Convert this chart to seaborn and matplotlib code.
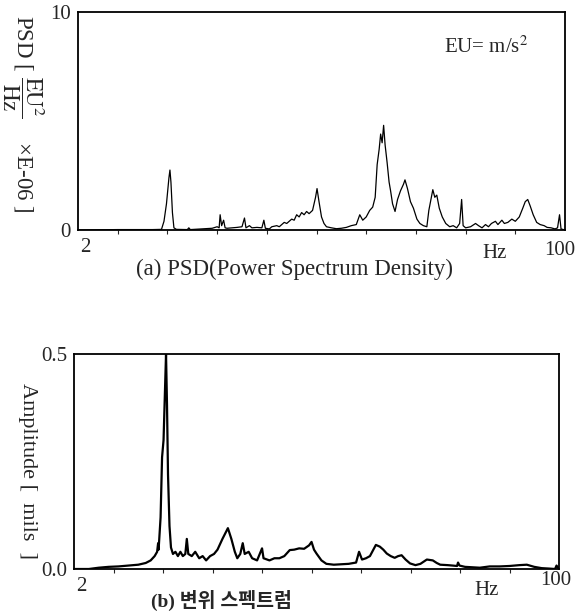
import matplotlib
matplotlib.use("Agg")
import matplotlib.pyplot as plt
import pandas as pd
import seaborn as sns

# (a) PSD, x in Hz, y in EU^2/Hz x 1E-06
psd_hz = [2.0, 10.0, 17.0, 18.8, 19.3, 19.8, 20.3, 20.5, 20.7, 21.0, 21.3, 21.8,
          24.0, 24.3, 24.6, 27.0, 29.0, 30.0, 30.4, 30.6, 30.9, 31.3, 31.6,
          32.0, 33.0, 34.0, 35.0, 35.5, 35.8, 36.5, 37.0, 38.0, 39.0, 39.4, 39.7,
          40.5, 41.0, 42.0, 42.5, 43.5, 44.0, 45.0, 45.5, 46.0, 46.5, 47.0, 47.5,
          48.0, 48.5, 49.2, 49.8, 50.1, 50.5, 51.0, 51.5, 52.0, 53.0, 54.0, 55.0,
          56.0, 57.0, 58.0, 58.7, 59.3, 60.0, 60.7, 61.3, 61.8, 62.2, 62.6, 62.9,
          63.2, 63.5, 63.8, 64.2, 64.6, 64.9, 65.3, 65.8, 66.3, 66.9, 67.5, 67.8,
          68.3, 68.9, 69.5, 70.2, 70.8, 71.5, 72.2, 72.6, 73.1, 73.4, 73.8, 74.2,
          74.7, 75.3, 76.0, 76.8, 77.5, 78.2, 78.8, 79.2, 79.5, 80.0, 81.0, 82.0,
          82.6, 83.3, 84.0, 84.6, 85.2, 86.0, 86.5, 87.3, 87.8, 88.5, 89.3, 90.0,
          90.8, 91.5, 92.0, 92.5, 93.0, 93.6, 94.3, 95.0, 95.8, 96.4, 97.2, 98.0,
          98.5, 98.9, 99.2, 100.0]
psd_val = [0.0, 0.02, 0.02, 0.03, 0.4, 1.2, 2.4, 2.75, 2.2, 0.8, 0.1, 0.03,
           0.02, 0.1, 0.02, 0.05, 0.08, 0.15, 0.1, 0.7, 0.2, 0.45, 0.1,
           0.08, 0.1, 0.12, 0.15, 0.55, 0.1, 0.2, 0.1, 0.12, 0.1, 0.45, 0.08,
           0.05, 0.15, 0.2, 0.15, 0.35, 0.3, 0.5, 0.45, 0.7, 0.6, 0.8, 0.7,
           0.85, 0.75, 0.9, 1.5, 1.9, 1.3, 0.6, 0.3, 0.15, 0.1, 0.06, 0.08,
           0.12, 0.2, 0.25, 0.7, 0.45, 0.6, 0.9, 1.05, 1.5, 3.0, 3.7, 4.4,
           4.0, 4.8, 3.9, 3.1, 2.2, 1.8, 1.2, 0.85, 1.4, 1.8, 2.1, 2.3,
           1.9, 1.3, 1.0, 0.5, 0.3, 0.2, 0.15, 0.9, 1.5, 1.85, 1.5, 1.6,
           1.0, 0.6, 0.3, 0.15, 0.2, 0.1, 0.3, 1.4, 0.2, 0.1, 0.15, 0.3,
           0.2, 0.1, 0.25, 0.15, 0.3, 0.4, 0.25, 0.45, 0.3, 0.35, 0.5, 0.4,
           0.6, 1.0, 1.3, 1.4, 1.1, 0.7, 0.35, 0.25, 0.2, 0.12, 0.1, 0.05,
           0.1, 0.7, 0.05, 0.0]

# (b) displacement spectrum, mils
amp_hz = [2.0, 5.0, 7.0, 9.0, 11.0, 13.0, 15.0, 16.5, 17.5, 18.3, 18.8, 19.0,
          19.1, 19.5, 19.8, 20.1, 20.4, 20.6, 20.8, 21.0, 21.3, 21.6, 22.0, 22.5,
          23.0, 23.5, 24.0, 24.5, 24.8, 25.1, 25.8, 26.5, 27.3, 28.0, 28.7, 29.5,
          30.3, 31.0, 32.0, 33.1, 33.8, 34.5, 35.0, 35.6, 36.1, 36.5, 37.3, 38.0,
          39.0, 40.0, 40.3, 41.5, 42.5, 43.5, 44.5, 45.6, 46.5, 47.5, 48.5, 49.5,
          50.0, 50.5, 51.0, 52.0, 53.0, 54.5, 56.0, 57.5, 59.0, 59.6, 60.2, 61.0,
          61.8, 63.0, 63.8, 64.5, 65.2, 66.0, 66.8, 67.5, 68.2, 69.0, 69.9, 71.0,
          72.0, 73.3, 74.5, 75.3, 76.0, 77.5, 78.5, 79.4, 79.6, 79.9, 81.0, 82.5,
          84.0, 86.0, 88.0, 90.0, 92.0, 93.5, 95.0, 96.5, 98.0, 99.2, 99.5, 100.0]
amp_val = [0.0, 0.0, 0.003, 0.005, 0.006, 0.008, 0.01, 0.014, 0.02, 0.03, 0.04, 0.06,
           0.045, 0.12, 0.26, 0.30, 0.42, 0.5, 0.38, 0.22, 0.1, 0.05, 0.035, 0.04,
           0.03, 0.04, 0.03, 0.035, 0.07, 0.035, 0.03, 0.04, 0.025, 0.03, 0.02, 0.03,
           0.035, 0.045, 0.07, 0.095, 0.07, 0.04, 0.025, 0.035, 0.06, 0.035, 0.04, 0.025,
           0.02, 0.048, 0.025, 0.02, 0.025, 0.025, 0.03, 0.044, 0.045, 0.048, 0.047, 0.055,
           0.063, 0.045, 0.036, 0.02, 0.012, 0.01, 0.011, 0.012, 0.015, 0.04, 0.022, 0.025,
           0.03, 0.056, 0.052, 0.045, 0.036, 0.03, 0.026, 0.03, 0.032, 0.022, 0.013, 0.009,
           0.012, 0.022, 0.02, 0.014, 0.01, 0.009, 0.008, 0.007, 0.015, 0.008, 0.005, 0.004,
           0.003, 0.006, 0.006, 0.007, 0.009, 0.01, 0.005, 0.002, 0.001, 0.0, 0.008, 0.0]

minor_hz = [10, 20, 30, 40, 50, 60, 70, 80, 90]

sns.set_style("white")
plt.rcParams["font.family"] = ["Liberation Serif", "Noto Sans CJK KR", "DejaVu Sans"]
plt.rcParams["mathtext.fontset"] = "stix"

fig = plt.figure(figsize=(5.77, 6.16), dpi=100)
ax_a = fig.add_axes([0.1352, 0.6266, 0.844, 0.354])
ax_b = fig.add_axes([0.1282, 0.0763, 0.8406, 0.349])

df_a = pd.DataFrame({"hz": psd_hz, "psd": psd_val})
df_b = pd.DataFrame({"hz": amp_hz, "amp": amp_val})
sns.lineplot(data=df_a, x="hz", y="psd", ax=ax_a, color="black", linewidth=0.9, sort=False)
sns.lineplot(data=df_b, x="hz", y="amp", ax=ax_b, color="black", linewidth=1.6, sort=False)

fs = 15
for ax, ytop, ylabels in [(ax_a, 10, ["0", "10"]), (ax_b, 0.5, ["0.0", "0.5"])]:
    ax.set_xlim(2, 100)
    ax.set_ylim(0, ytop)
    for s in ax.spines.values():
        s.set_visible(True)
        s.set_color("black")
        s.set_linewidth(1.3)
    ax.set_xticks(minor_hz, minor=True)
    ax.set_xticks([])
    ax.tick_params(axis="x", which="minor", length=3, width=0.8, direction="out", bottom=True)
    ax.set_yticks([0, ytop])
    ax.set_yticklabels(ylabels, fontsize=fs)
    ax.tick_params(axis="y", length=0, pad=5)
    ax.set_xlabel("")
    ax.set_ylabel("")
    ax.text(0.005, -0.035, "2", transform=ax.transAxes, fontsize=fs, ha="left", va="top")

ax_a.text(1.022, -0.05, "100", transform=ax_a.transAxes, fontsize=fs, ha="right", va="top")
ax_a.text(0.855, -0.065, "Hz", transform=ax_a.transAxes, fontsize=fs, ha="center", va="top")
ax_b.text(1.025, -0.01, "100", transform=ax_b.transAxes, fontsize=fs, ha="right", va="top")
ax_b.text(0.85, -0.055, "Hz", transform=ax_b.transAxes, fontsize=fs, ha="center", va="top")

ax_a.text(0.838, 0.84, "EU= m/s$^2$", transform=ax_a.transAxes, fontsize=15, ha="center", va="center")
fig.text(0.04, 0.815, r"PSD [ $\dfrac{\mathrm{EU}^2}{\mathrm{Hz}}$    ×E-06 ]", rotation=-90,
         fontsize=16.5, ha="center", va="center")
fig.text(0.047, 0.235, "Amplitude [  mils  ]", rotation=-90, fontsize=16, ha="center", va="center")
fig.text(0.51, 0.562, "(a) PSD(Power Spectrum Density)", fontsize=16.5, ha="center", va="center")
fig.text(0.383, 0.025, "(b) 변위 스펙트럼", fontsize=14, fontweight="bold", ha="center", va="center")

fig.savefig("out.png", dpi=100)
